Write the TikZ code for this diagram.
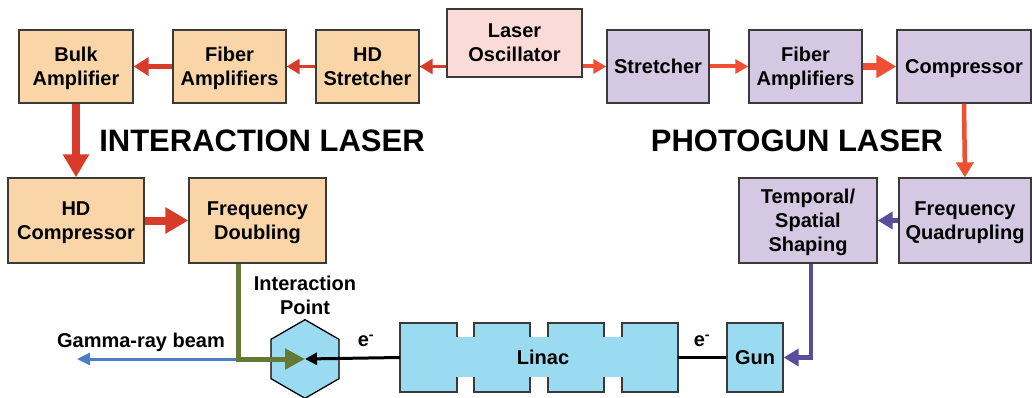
\documentclass[tikz,border=0pt]{standalone}
\usepackage{fontspec}
\setmainfont{Liberation Sans}
\usetikzlibrary{arrows.meta,shapes.geometric}
\definecolor{peach}{HTML}{F9D5A8}
\definecolor{pinkbox}{HTML}{FBDBD7}
\definecolor{lilac}{HTML}{D5C8E2}
\definecolor{skyb}{HTML}{9BDBF1}
\definecolor{edge}{HTML}{3A3A3A}
\definecolor{redarr}{HTML}{D83B2A}
\definecolor{orarr}{HTML}{EF5034}
\definecolor{purarr}{HTML}{5A4D9E}
\definecolor{grnarr}{HTML}{627A35}
\definecolor{gamarr}{HTML}{4C7EC4}
\begin{document}
\begin{tikzpicture}[
 x=1pt,y=-1pt,
 box/.style={draw=edge,line width=1.3pt,align=center,inner sep=0pt,text depth=0pt},
 lbl/.style={font=\fontsize{20}{24}\selectfont\bfseries,align=center},
 redthin/.style={draw=redarr,line width=3pt,-{Triangle[length=13pt,width=15pt]}},
 redmid/.style={draw=redarr,line width=4.5pt,-{Triangle[length=15pt,width=18pt]}},
 redfat/.style={draw=redarr,line width=8pt,-{Triangle[length=23pt,width=25pt]}},
 orthin/.style={draw=orarr,line width=4pt,-{Triangle[length=13pt,width=14pt]}},
 orfat/.style={draw=orarr,line width=7pt,-{Triangle[length=20pt,width=22pt]}},
 purarrow/.style={draw=purarr,line width=4.5pt,-{Triangle[length=15pt,width=17pt]}},
 grnarrow/.style={draw=grnarr,line width=5pt,-{Triangle[length=20pt,width=20pt]}},
 gamarrow/.style={draw=gamarr,line width=3pt,-{Triangle[length=13pt,width=12pt]}},
 beam/.style={draw=black,line width=3pt},
 every node/.style={lbl}]
 \useasboundingbox (0,0) rectangle (1032,398);
 % Interaction laser chain (top left).
 \node[box,fill=pinkbox,minimum width=135pt,minimum height=68pt] (osc) at (514.5,43) {Laser\\Oscillator};
 \node[box,fill=peach,minimum width=103pt,minimum height=73pt] (hds) at (367.5,66.5) {HD\\Stretcher};
 \node[box,fill=peach,minimum width=113pt,minimum height=73pt] (fibl) at (229.5,66.5) {Fiber\\Amplifiers};
 \node[box,fill=peach,minimum width=114pt,minimum height=73pt] (bulk) at (76,66.5) {Bulk\\Amplifier};
 \node[box,fill=peach,minimum width=136pt,minimum height=85pt] (hdc) at (76,220.5) {HD\\Compressor};
 \node[box,fill=peach,minimum width=137pt,minimum height=85pt] (fdbl) at (257.5,220.5) {Frequency\\Doubling};
 % Photogun laser chain (top right).
 \node[box,fill=lilac,minimum width=102pt,minimum height=73pt] (str) at (658,66.5) {Stretcher};
 \node[box,fill=lilac,minimum width=113pt,minimum height=73pt] (fibr) at (805.5,66.5) {Fiber\\Amplifiers};
 \node[box,fill=lilac,minimum width=134pt,minimum height=73pt] (comp) at (964,66.5) {Compressor};
 \node[box,fill=lilac,minimum width=132pt,minimum height=85pt] (fquad) at (965,220.5) {Frequency\\Quadrupling};
 \node[box,fill=lilac,minimum width=138pt,minimum height=85pt] (shape) at (808,220.5) {Temporal/\\Spatial\\Shaping};
 \node[anchor=base,font=\fontsize{31}{36}\selectfont\bfseries] (ttlint) at (262,152) {INTERACTION LASER};
 \node[anchor=base,font=\fontsize{31}{36}\selectfont\bfseries] (ttlpg) at (797,152) {PHOTOGUN LASER};
 % Electron beam line: four cavities joined by a neck.
 \foreach \xa/\xb in {400/457,474/530,548/604,622/678}{
   \draw[draw=edge,line width=1.3pt,fill=skyb] (\xa,323) rectangle (\xb,392);
 }
 \fill[skyb] (455,337) rectangle (624,377);
 \node[minimum width=278pt,minimum height=69pt,inner sep=0pt] (linac) at (539,357.5) {\hspace*{8pt}Linac};
 \node[box,fill=skyb,minimum width=56pt,minimum height=69pt] (gun) at (755,357.5) {Gun};
 \node[draw=black,line width=1.3pt,fill=skyb,regular polygon,regular polygon sides=6,
   shape border rotate=30,minimum size=78.6pt,inner sep=0pt] (ip) at (305,359) {};
 \node (iplbl) at (305,295) {Interaction\\Point};
 \coordinate (gbend) at (238,359);
 \coordinate (gend) at (77,359);
 \coordinate (pbend) at (811,359);
 % Connectors.
 \draw[redthin] (osc.west |- hds.east) -- (hds.east);
 \draw[redthin] (hds.west) -- (fibl.east);
 \draw[redmid] (fibl.west) -- (bulk.east);
 \draw[redfat] (bulk.south) -- (hdc.north);
 \draw[redfat] (hdc.east) -- (fdbl.west);
 \draw[orthin] (osc.east |- str.west) -- (str.west);
 \draw[orthin] (str.east) -- (fibr.west);
 \draw[orfat] (fibr.east) -- (comp.west);
 \draw[draw=orarr,line width=4.5pt,-{Triangle[length=15pt,width=17pt]}] (comp.south) -- (fquad.north);
 \draw[purarrow] (fquad.west) -- (shape.east);
 \draw[purarrow] (shape.south -| pbend) |- (gun.east);
 \draw[gamarrow] (gbend) -- (gend);
 \draw[grnarrow] (fdbl.south -| gbend) |- (ip.center);
 \draw[beam,-{Triangle[length=12pt,width=12pt]}] (linac.west) -- (ip.center);
 \draw[beam] (gun.west) -- (linac.east);
 \node (gamlbl) at (141,342) {Gamma-ray beam};
 \node (elin) at (366,341) {e\textsuperscript{-}};
 \node (egun) at (702,341) {e\textsuperscript{-}};
\end{tikzpicture}
\end{document}
